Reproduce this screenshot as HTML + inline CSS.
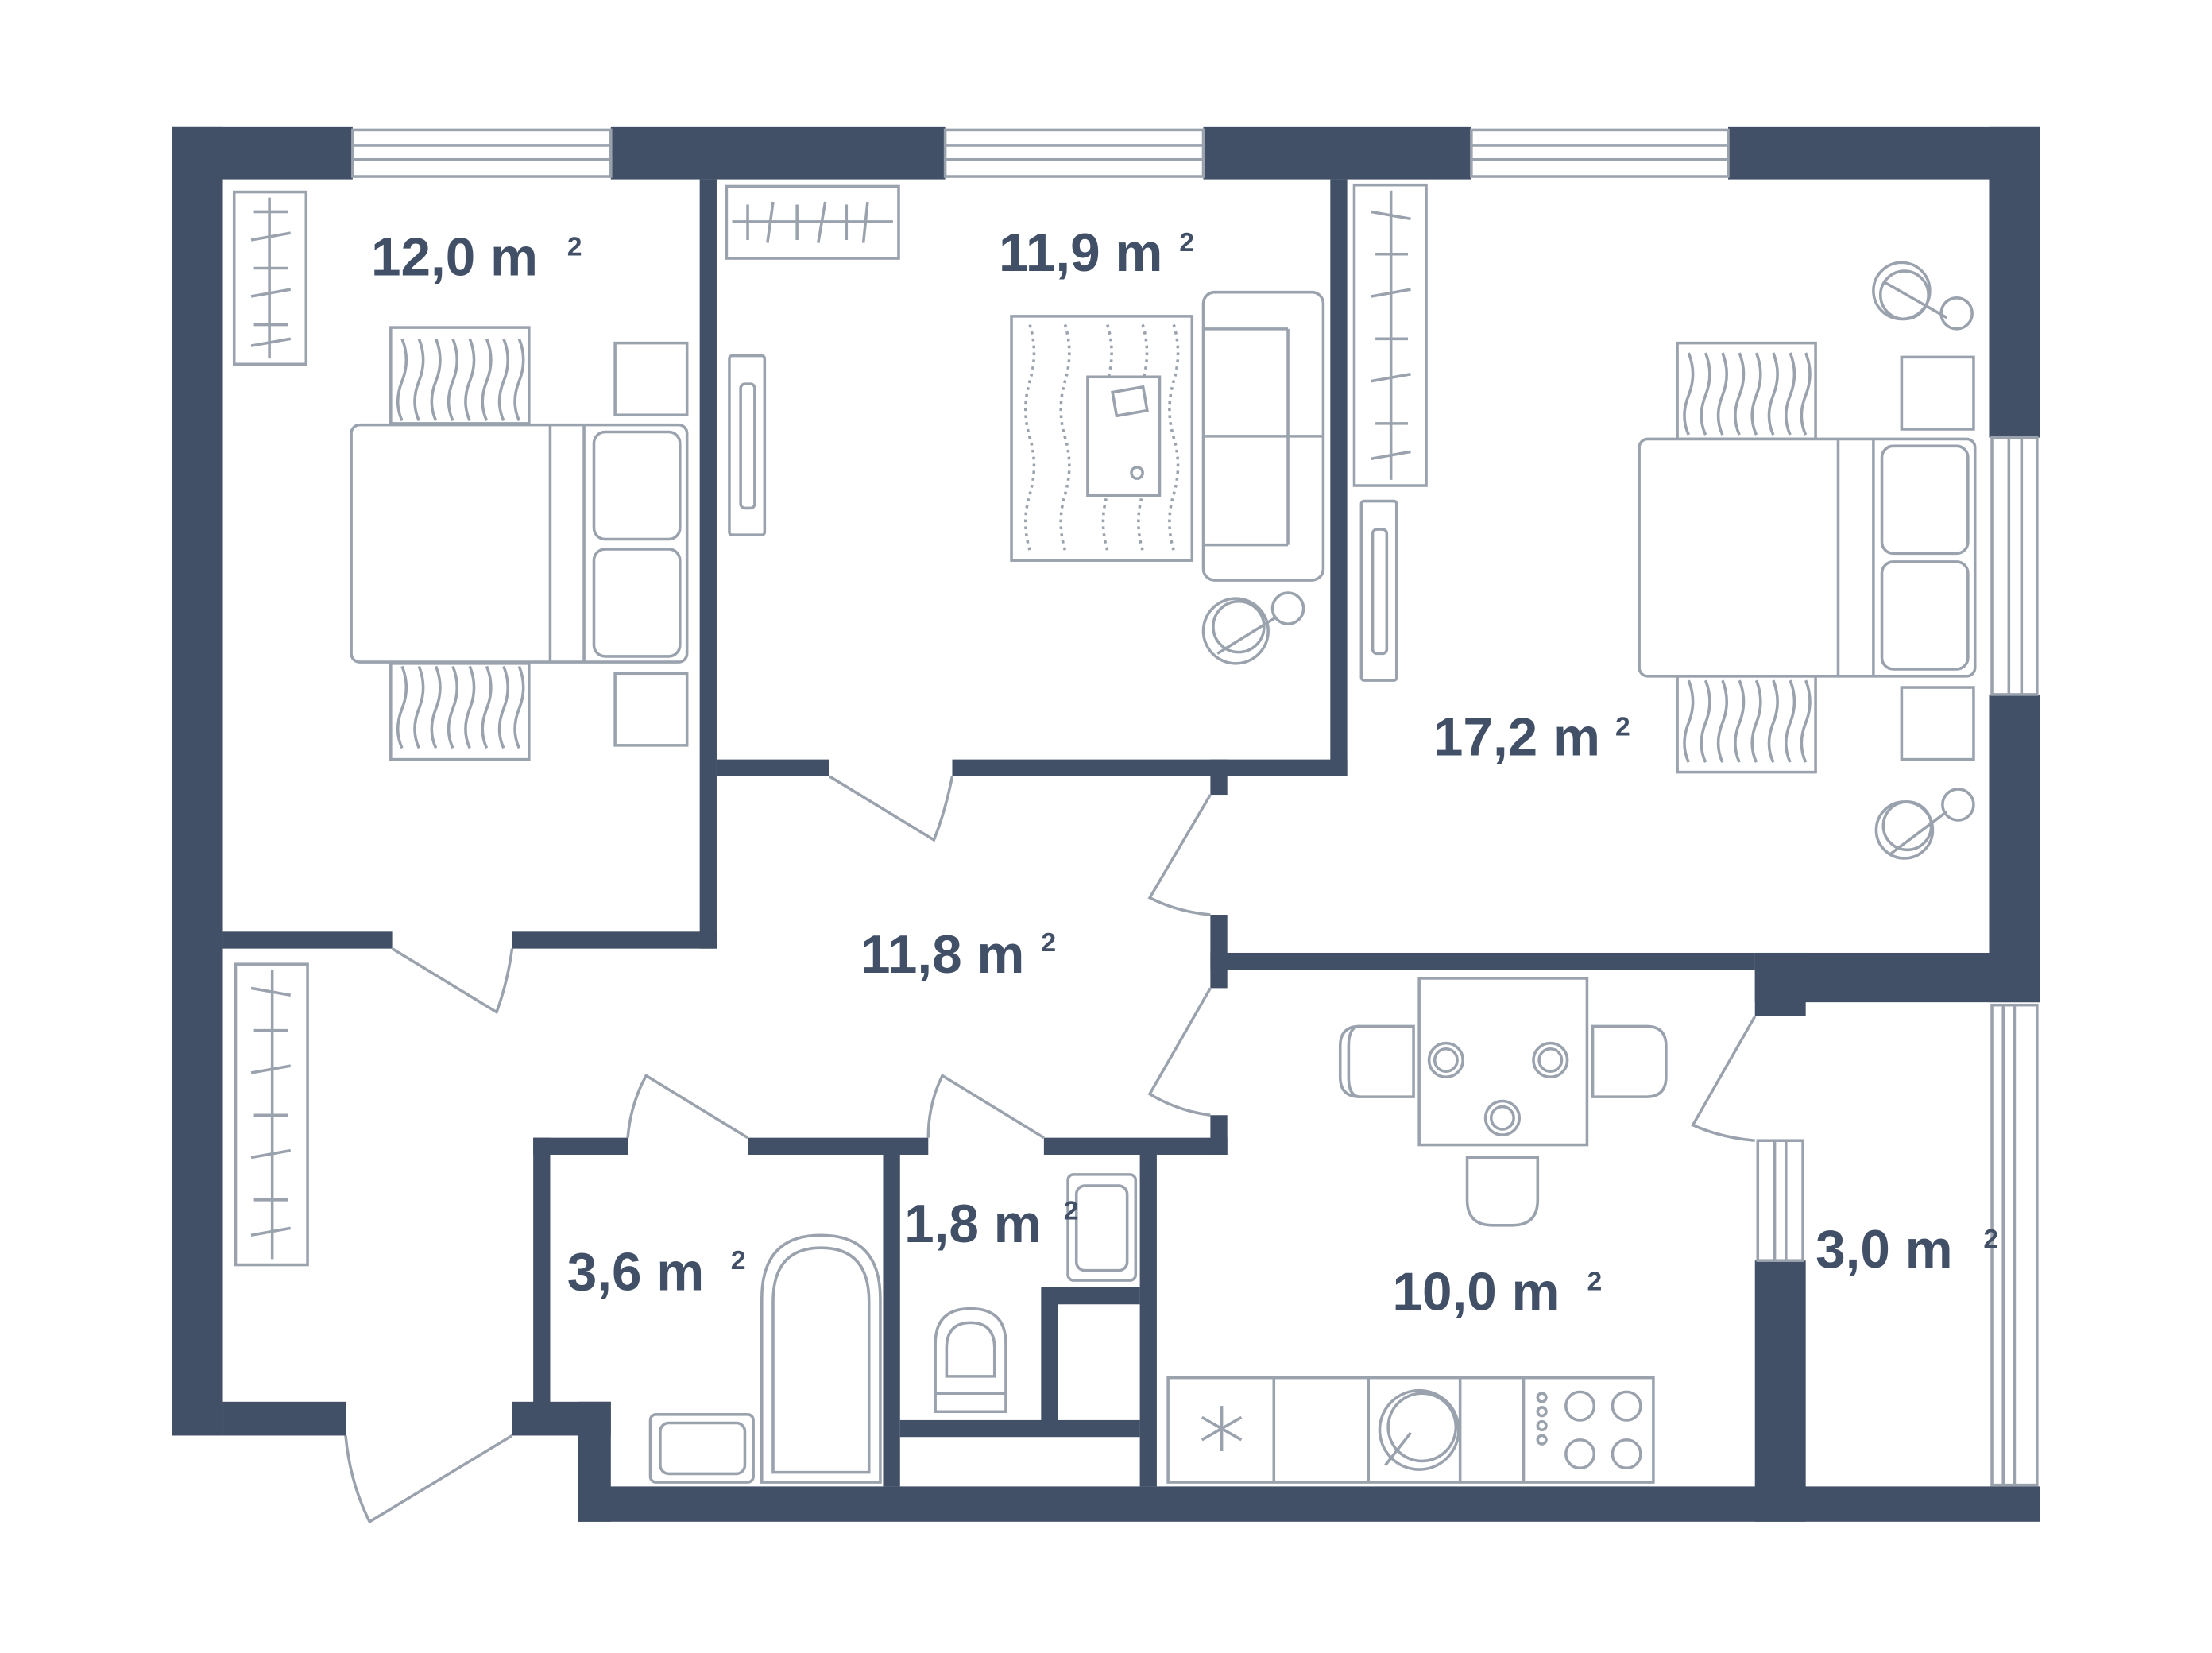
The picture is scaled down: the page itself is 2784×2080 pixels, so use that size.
<!DOCTYPE html>
<html><head><meta charset="utf-8"><style>
html,body{margin:0;padding:0;background:#fff;}
svg{display:block}
text{font-family:"Liberation Sans",sans-serif;font-weight:bold;fill:#415066}
</style></head><body>
<svg width="2784" height="2080" viewBox="0 0 1568 1171" preserveAspectRatio="none" xmlns="http://www.w3.org/2000/svg">
<g fill="#415066">
<rect x="122" y="90" width="128" height="37"/>
<rect x="433" y="90" width="237" height="37"/>
<rect x="853" y="90" width="190" height="37"/>
<rect x="1225" y="90" width="221" height="37"/>
<rect x="122" y="90" width="36" height="927"/>
<rect x="1410" y="90" width="36" height="220"/>
<rect x="1410" y="492" width="36" height="218"/>
<rect x="1244" y="675" width="202" height="35"/>
<rect x="1244" y="675" width="36" height="45"/>
<rect x="1244" y="893" width="36" height="185"/>
<rect x="410" y="1053" width="1036" height="25"/>
<rect x="158" y="993" width="87" height="24"/>
<rect x="363" y="993" width="70" height="24"/>
<rect x="410" y="993" width="23" height="85"/>
<rect x="496" y="127" width="12" height="545"/>
<rect x="158" y="660" width="120" height="12"/>
<rect x="363" y="660" width="145" height="12"/>
<rect x="508" y="538" width="80" height="12"/>
<rect x="675" y="538" width="280" height="12"/>
<rect x="943" y="127" width="12" height="423"/>
<rect x="858" y="538" width="12" height="25"/>
<rect x="858" y="648" width="12" height="52"/>
<rect x="858" y="675" width="386" height="12"/>
<rect x="858" y="790" width="12" height="28"/>
<rect x="740" y="806" width="130" height="12"/>
<rect x="378" y="806" width="67" height="12"/>
<rect x="530" y="806" width="128" height="12"/>
<rect x="378" y="806" width="12" height="194"/>
<rect x="626" y="818" width="12" height="235"/>
<rect x="808" y="818" width="12" height="235"/>
<rect x="738" y="912" width="12" height="96"/>
<rect x="750" y="912" width="58" height="12"/>
<rect x="638" y="1006" width="170" height="12"/>
</g>
<g fill="none" stroke="#9aa2ad" stroke-width="2">
<rect x="250" y="92" width="183" height="33"/><line x1="250" y1="103" x2="433" y2="103"/><line x1="250" y1="113" x2="433" y2="113"/>
<rect x="670" y="92" width="183" height="33"/><line x1="670" y1="103" x2="853" y2="103"/><line x1="670" y1="113" x2="853" y2="113"/>
<rect x="1043" y="92" width="182" height="33"/><line x1="1043" y1="103" x2="1225" y2="103"/><line x1="1043" y1="113" x2="1225" y2="113"/>
<rect x="1412" y="310" width="32" height="182"/><line x1="1424" y1="310" x2="1424" y2="492"/><line x1="1433" y1="310" x2="1433" y2="492"/>
<rect x="1412" y="712" width="32" height="340"/><line x1="1420" y1="712" x2="1420" y2="1052"/><line x1="1428" y1="712" x2="1428" y2="1052"/>
<rect x="1246" y="808" width="32" height="85"/><line x1="1258" y1="808" x2="1258" y2="893"/><line x1="1266" y1="808" x2="1266" y2="893"/>
<path d="M278 672 L352 717 Q360 695 363 672"/>
<path d="M588 550 L662 595 Q670 575 675 550"/>
<path d="M858 563 L815 636 Q835 646 858 648"/>
<path d="M858 700 L815 775 Q835 787 858 790"/>
<path d="M1244 720 L1200 797 Q1220 806 1244 808"/>
<path d="M530 806 L458 762 Q447 782 445 806"/>
<path d="M740 806 L668 762 Q658 782 658 806"/>
<path d="M363 1017 L262 1078 Q248 1050 245 1017"/>
<rect x="166" y="136" width="51" height="122"/><line x1="191" y1="140" x2="191" y2="254"/>
<path d="M180 150 L204 150 M178 170 L206 165 M180 190 L204 190 M178 210 L206 205 M180 230 L204 230 M178 245 L206 240"/>
<rect x="515" y="132" width="122" height="51"/><line x1="519" y1="157" x2="633" y2="157"/>
<path d="M530 145 L530 170 M548 143 L544 172 M565 145 L565 170 M585 143 L580 172 M600 145 L600 170 M615 143 L612 172"/>
<rect x="960" y="131" width="51" height="213"/><line x1="986" y1="135" x2="986" y2="340"/>
<path d="M972 150 L1000 155 M975 180 L998 180 M972 210 L1000 205 M975 240 L998 240 M972 270 L1000 265 M975 300 L998 300 M972 325 L1000 320"/>
<rect x="167" y="683" width="51" height="213"/><line x1="193" y1="687" x2="193" y2="892"/>
<path d="M178 700 L206 705 M180 730 L204 730 M178 760 L206 755 M180 790 L204 790 M178 820 L206 815 M180 850 L204 850 M178 875 L206 870"/>
<rect x="517" y="252" width="25" height="127" rx="2"/><rect x="525" y="272" width="10" height="88" rx="3"/>
<rect x="965" y="355" width="25" height="127" rx="2"/><rect x="973" y="375" width="10" height="88" rx="3"/>
<rect x="277" y="232" width="98" height="68"/><rect x="277" y="470" width="98" height="68"/>
<path d="M285 240 q6 15 0 30 q-6 15 0 28 M297 240 q6 15 0 30 q-6 15 0 28 M309 240 q6 15 0 30 q-6 15 0 28 M321 240 q6 15 0 30 q-6 15 0 28 M333 240 q6 15 0 30 q-6 15 0 28 M345 240 q6 15 0 30 q-6 15 0 28 M357 240 q6 15 0 30 q-6 15 0 28 M368 240 q6 15 0 30 q-6 15 0 28"/>
<path d="M285 472 q6 15 0 30 q-6 15 0 28 M297 472 q6 15 0 30 q-6 15 0 28 M309 472 q6 15 0 30 q-6 15 0 28 M321 472 q6 15 0 30 q-6 15 0 28 M333 472 q6 15 0 30 q-6 15 0 28 M345 472 q6 15 0 30 q-6 15 0 28 M357 472 q6 15 0 30 q-6 15 0 28 M368 472 q6 15 0 30 q-6 15 0 28"/>
<rect x="249" y="301" width="238" height="168" rx="6" fill="#fff"/><line x1="390" y1="301" x2="390" y2="469"/><line x1="414" y1="301" x2="414" y2="469"/>
<rect x="421" y="306" width="61" height="76" rx="8"/><rect x="421" y="389" width="61" height="76" rx="8"/>
<rect x="436" y="243" width="51" height="51"/><rect x="436" y="477" width="51" height="51"/>
<rect x="1189" y="243" width="98" height="68"/><rect x="1189" y="479" width="98" height="68"/>
<path d="M1197 250 q6 15 0 30 q-6 15 0 28 M1209 250 q6 15 0 30 q-6 15 0 28 M1221 250 q6 15 0 30 q-6 15 0 28 M1233 250 q6 15 0 30 q-6 15 0 28 M1245 250 q6 15 0 30 q-6 15 0 28 M1257 250 q6 15 0 30 q-6 15 0 28 M1269 250 q6 15 0 30 q-6 15 0 28 M1280 250 q6 15 0 30 q-6 15 0 28"/>
<path d="M1197 482 q6 15 0 30 q-6 15 0 28 M1209 482 q6 15 0 30 q-6 15 0 28 M1221 482 q6 15 0 30 q-6 15 0 28 M1233 482 q6 15 0 30 q-6 15 0 28 M1245 482 q6 15 0 30 q-6 15 0 28 M1257 482 q6 15 0 30 q-6 15 0 28 M1269 482 q6 15 0 30 q-6 15 0 28 M1280 482 q6 15 0 30 q-6 15 0 28"/>
<rect x="1162" y="311" width="238" height="168" rx="6" fill="#fff"/><line x1="1303" y1="311" x2="1303" y2="479"/><line x1="1328" y1="311" x2="1328" y2="479"/>
<rect x="1334" y="316" width="61" height="76" rx="8"/><rect x="1334" y="398" width="61" height="76" rx="8"/>
<rect x="1348" y="253" width="51" height="51"/><rect x="1348" y="487" width="51" height="51"/>
<circle cx="1348" cy="206" r="20"/><circle cx="1350" cy="209" r="17"/><circle cx="1387" cy="222" r="11"/><line x1="1336" y1="200" x2="1380" y2="225"/>
<circle cx="1350" cy="588" r="20"/><circle cx="1352" cy="585" r="17"/><circle cx="1388" cy="570" r="11"/><line x1="1340" y1="605" x2="1380" y2="575"/>
<rect x="717" y="224" width="128" height="173"/>
<path d="M730 230 q6 20 0 40 q-6 20 0 40 q6 20 0 40 q-6 20 0 40 M755 230 q6 20 0 40 q-6 20 0 40 q6 20 0 40 q-6 20 0 40 M785 230 q6 20 0 40 q-6 20 0 40 q6 20 0 40 q-6 20 0 40 M810 230 q6 20 0 40 q-6 20 0 40 q6 20 0 40 q-6 20 0 40 M832 230 q6 20 0 40 q-6 20 0 40 q6 20 0 40 q-6 20 0 40" stroke-dasharray="2 3"/>
<rect x="771" y="267" width="51" height="84" fill="#fff"/><rect x="790" y="276" width="22" height="17" transform="rotate(-10 800 285)"/><circle cx="806" cy="335" r="4"/>
<rect x="853" y="207" width="85" height="204" rx="8"/><line x1="853" y1="233" x2="913" y2="233"/><line x1="853" y1="386" x2="913" y2="386"/><line x1="913" y1="233" x2="913" y2="386"/><line x1="853" y1="309" x2="938" y2="309"/>
<circle cx="876" cy="447" r="23"/><circle cx="878" cy="444" r="18"/><circle cx="913" cy="431" r="11"/><line x1="863" y1="463" x2="905" y2="437"/>
<rect x="1006" y="693" width="119" height="118"/>
<path d="M1002 727 h-38 q-14 0 -14 14 v22 q0 14 14 14 h38 z"/><path d="M964 727 q-8 0 -8 14 v22 q0 14 8 14"/>
<path d="M1129 727 h38 q14 0 14 14 v22 q0 14 -14 14 h-38 z"/>
<path d="M1040 820 h50 v30 q0 18 -18 18 h-14 q-18 0 -18 -18 z"/>
<circle cx="1025" cy="751" r="12"/><circle cx="1025" cy="751" r="8"/>
<circle cx="1099" cy="751" r="12"/><circle cx="1099" cy="751" r="8"/>
<circle cx="1065" cy="792" r="12"/><circle cx="1065" cy="792" r="8"/>
<rect x="828" y="976" width="344" height="74"/><line x1="903" y1="976" x2="903" y2="1050"/><line x1="970" y1="976" x2="970" y2="1050"/><line x1="1080" y1="976" x2="1080" y2="1050"/><line x1="1035" y1="976" x2="1035" y2="1050"/>
<path d="M866 996 v32 M852 1004 l28 16 M852 1020 l28 -16"/>
<circle cx="1006" cy="1013" r="28"/><circle cx="1008" cy="1011" r="24"/><line x1="982" y1="1038" x2="1000" y2="1015"/>
<circle cx="1120" cy="996" r="10"/><circle cx="1153" cy="996" r="10"/><circle cx="1120" cy="1030" r="10"/><circle cx="1153" cy="1030" r="10"/>
<circle cx="1093" cy="990" r="3"/><circle cx="1093" cy="1000" r="3"/><circle cx="1093" cy="1010" r="3"/><circle cx="1093" cy="1020" r="3"/>
<path d="M540 1050 V920 q0 -45 42 -45 q42 0 42 45 V1050 z"/><path d="M548 1043 V922 q0 -38 34 -38 q34 0 34 38 V1043 z"/>
<rect x="461" y="1002" width="73" height="48" rx="4"/><rect x="468" y="1008" width="60" height="36" rx="6"/>
<rect x="757" y="832" width="48" height="75" rx="4"/><rect x="763" y="840" width="36" height="60" rx="6"/>
<path d="M663 1000 V952 q0 -25 25 -25 q25 0 25 25 V1000 z"/><path d="M671 975 V955 q0 -18 17 -18 q17 0 17 18 V975 z"/><line x1="663" y1="987" x2="713" y2="987"/>
</g>
<g>
<text x="263" y="195" font-size="38">12,0 m</text><text x="402" y="181" font-size="19">2</text>
<text x="708" y="192" font-size="38">11,9 m</text><text x="836" y="178" font-size="19">2</text>
<text x="1016" y="535" font-size="38">17,2 m</text><text x="1145" y="521" font-size="19">2</text>
<text x="610" y="689" font-size="38">11,8 m</text><text x="738" y="674" font-size="19">2</text>
<text x="402" y="914" font-size="38">3,6 m</text><text x="518" y="899" font-size="19">2</text>
<text x="641" y="880" font-size="38">1,8 m</text><text x="754" y="864" font-size="19">2</text>
<text x="987" y="928" font-size="38">10,0 m</text><text x="1125" y="914" font-size="19">2</text>
<text x="1287" y="898" font-size="38">3,0 m</text><text x="1406" y="884" font-size="19">2</text>
</g>
</svg>
</body></html>
